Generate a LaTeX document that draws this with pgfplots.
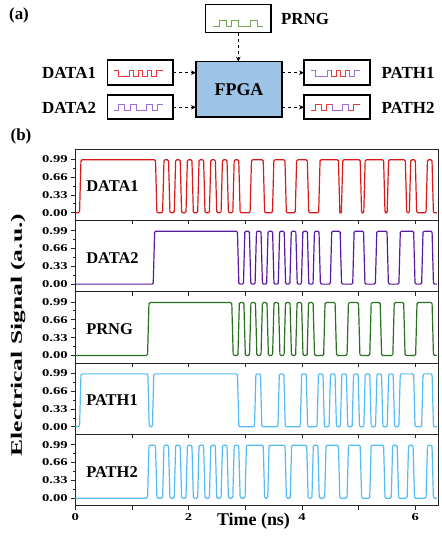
\documentclass[border=0pt]{standalone}
\usepackage{fontspec}
\setmainfont{Liberation Serif}
\newfontfamily\tickfont[FakeStretch=1.4]{Liberation Serif}
\newfontfamily\ylabfont[FakeStretch=1.6]{Liberation Serif}
\usepackage{pgfplots}
\pgfplotsset{compat=1.18}
\usetikzlibrary{arrows.meta}

\definecolor{cData1}{HTML}{D91A1A}
\definecolor{cData2}{HTML}{5A1AA0}
\definecolor{cPrng}{HTML}{2A7020}
\definecolor{cPath}{HTML}{55BBF5}
\definecolor{cFpga}{HTML}{9DC3E6}
\definecolor{iRed}{HTML}{E8383D}
\definecolor{iPur}{HTML}{A070D0}
\definecolor{iGrn}{HTML}{70A850}

\pgfplotsset{
  panel/.style={
    scale only axis, width=362.7bp, height=71.35bp, anchor=north west,
    xmin=0, xmax=6.4, ymin=-0.14, ymax=1.18,
    axis line style={line width=0.9bp, black!85},
    every tick/.style={line width=0.8bp, black!85},
    xtick={0,1,2,3,4,5,6}, xticklabels={},
    ytick={0,0.33,0.66,0.99}, yticklabels={0.00,0.33,0.66,0.99},
    minor ytick={0.165,0.495,0.825},
    tick align=outside, xtick pos=bottom, ytick pos=left,
    major tick length=4bp, minor tick length=2.5bp,
    yticklabel style={font=\tickfont\bfseries\fontsize{10.5}{10.5}\selectfont},
    xticklabel style={font=\tickfont\bfseries\fontsize{10.5}{10.5}\selectfont},
  },
  sig/.style={line width=1.2bp, rounded corners=1.2bp},
}
\newcommand\plab[1]{\node[anchor=west, inner sep=0pt, font=\bfseries\fontsize{16.5}{16.5}\selectfont] at (axis cs:0.19,0.49) {#1};}
\tikzset{darr/.style={line width=1bp, dash pattern=on 3.5bp off 2.5bp, -{Stealth[length=5bp,width=4.5bp]}}}

\begin{document}
\begin{tikzpicture}[x=1bp, y=1bp, font=\bfseries]
\path[use as bounding box] (0,0) rectangle (442,536);

% ---------- (a) block diagram ----------
\node[font=\bfseries\fontsize{17}{17}\selectfont] at (19,521) {(a)};
\draw[line width=1.6bp] (205.3,503.3) rectangle (270.7,531.3);
\node[font=\bfseries\fontsize{17}{17}\selectfont] at (305,517.5) {PRNG};
\draw[darr] (238.3,503.3) -- (238.3,474.3);
\draw[line width=1.6bp, fill=cFpga] (196,418.7) rectangle (281.7,474.3);
\node[font=\bfseries\fontsize{18}{18}\selectfont] at (239,446) {FPGA};
\draw[line width=1.6bp] (107.3,451) rectangle (172.7,476);
\draw[line width=1.6bp] (107.3,417) rectangle (172.7,441);
\draw[line width=1.6bp] (304,451) rectangle (370,476);
\draw[line width=1.6bp] (304,417) rectangle (370,441);
\node[font=\bfseries\fontsize{17}{17}\selectfont] at (69,463) {DATA1};
\node[font=\bfseries\fontsize{17}{17}\selectfont] at (69,428) {DATA2};
\node[font=\bfseries\fontsize{17}{17}\selectfont] at (408,463) {PATH1};
\node[font=\bfseries\fontsize{17}{17}\selectfont] at (408,428) {PATH2};
\foreach \yy in {463.3,428.7}{
  \draw[darr] (172.7,\yy) -- (196,\yy);
  \draw[darr] (281.7,\yy) -- (304,\yy);
}
% icons
\draw[iGrn, line width=0.8bp] (213,510) -- (219,510) -- (219,516) -- (226,516) -- (226,510) -- (231,510) -- (231,516) -- (238,516) -- (238,510) -- (250,510) -- (250,516) -- (257,516) -- (257,510) -- (263,510);
\draw[iRed, line width=0.8bp] (114,466) -- (118,466) -- (118,460) -- (129,460) -- (129,466) -- (133,466) -- (133,460) -- (138,460) -- (138,466) -- (142,466) -- (142,460) -- (147,460) -- (147,466) -- (151,466) -- (151,460) -- (156,460) -- (156,466) -- (163,466);
\draw[iPur, line width=0.8bp] (114,426) -- (118,426) -- (118,432) -- (124,432) -- (124,426) -- (130,426) -- (130,432) -- (136,432) -- (136,426) -- (146,426) -- (146,432) -- (152,432) -- (152,426) -- (157,426) -- (157,432) -- (163,432);
\draw[iPur, line width=0.8bp] (311,466) -- (315,466) -- (315,460) -- (327,460) -- (327,466) -- (331,466);
\draw[iRed, line width=0.8bp] (331,466) -- (331,460) -- (336,460) -- (336,466) -- (340,466) -- (340,460) -- (345,460) -- (345,466) -- (349,466);
\draw[iPur, line width=0.8bp] (349,466) -- (349,460) -- (354,460) -- (354,466) -- (360,466);
\draw[iRed, line width=0.8bp] (311,426) -- (315,426) -- (315,432) -- (321,432) -- (321,426) -- (326,426) -- (326,432) -- (332,432);
\draw[iPur, line width=0.8bp] (332,432) -- (332,426) -- (342,426) -- (342,432) -- (348,432) -- (348,426);
\draw[iRed, line width=0.8bp] (348,426) -- (353,426) -- (353,432) -- (360,432);

\node[font=\bfseries\fontsize{17}{17}\selectfont] at (21,400) {(b)};

% ---------- (b) waveforms ----------
\begin{axis}[panel, at={(75.3bp,387bp)}]
\addplot[sig, cData1] coordinates {(0,0) (0.075,0) (0.1,0.98) (1.415,0.98) (1.44,0)
 (1.54,0) (1.565,0.98) (1.645,0.98) (1.67,0) (1.746,0) (1.771,0.98) (1.851,0.98) (1.876,0)
 (1.953,0) (1.978,0.98) (2.058,0.98) (2.083,0) (2.159,0) (2.184,0.98) (2.264,0.98) (2.289,0)
 (2.366,0) (2.391,0.98) (2.471,0.98) (2.496,0) (2.572,0) (2.597,0.98) (2.677,0.98) (2.702,0)
 (2.779,0) (2.804,0.98) (2.884,0.98) (2.909,0)
 (3.084,0) (3.109,0.98) (3.316,0.98) (3.341,0) (3.479,0) (3.504,0.98) (3.699,0.98) (3.724,0)
 (3.881,0) (3.906,0.98) (4.094,0.98) (4.119,0) (4.294,0) (4.319,0.98) (4.643,0.98) (4.668,0)
 (4.695,0) (4.72,0.98) (5.027,0.98) (5.052,0) (5.09,0) (5.115,0.98) (5.44,0.98) (5.465,0)
 (5.503,0) (5.528,0.98) (5.823,0.98) (5.848,0) (5.894,0) (5.919,0.98) (5.999,0.98) (6.024,0)
 (6.189,0) (6.214,0.98) (6.294,0.98) (6.319,0) (6.38,0)};
\plab{DATA1}
\end{axis}

\begin{axis}[panel, at={(75.3bp,315.65bp)}]
\addplot[sig, cData2] coordinates {(0,0) (1.375,0) (1.4,0.98) (2.861,0.98) (2.886,0)
 (2.967,0) (2.992,0.98) (3.072,0.98) (3.097,0) (3.172,0) (3.197,0.98) (3.277,0.98) (3.302,0)
 (3.376,0) (3.401,0.98) (3.481,0.98) (3.506,0) (3.581,0) (3.606,0.98) (3.686,0.98) (3.711,0)
 (3.786,0) (3.811,0.98) (3.891,0.98) (3.916,0) (3.99,0) (4.015,0.98) (4.095,0.98) (4.12,0)
 (4.195,0) (4.22,0.98) (4.3,0.98) (4.325,0)
 (4.5,0) (4.525,0.98) (4.673,0.98) (4.698,0) (4.895,0) (4.92,0.98) (5.086,0.98) (5.111,0)
 (5.295,0) (5.32,0.98) (5.5,0.98) (5.525,0) (5.71,0) (5.735,0.98) (5.97,0.98) (5.995,0)
 (6.111,0) (6.136,0.98) (6.295,0.98) (6.32,0) (6.38,0)};
\plab{DATA2}
\end{axis}

\begin{axis}[panel, at={(75.3bp,244.3bp)}]
\addplot[sig, cPrng] coordinates {(0,0) (1.275,0) (1.3,0.98) (2.761,0.98) (2.786,0)
 (2.87,0) (2.895,0.98) (2.975,0.98) (3.0,0) (3.074,0) (3.099,0.98) (3.179,0.98) (3.204,0)
 (3.277,0) (3.302,0.98) (3.382,0.98) (3.407,0) (3.481,0) (3.506,0.98) (3.586,0.98) (3.611,0)
 (3.684,0) (3.709,0.98) (3.789,0.98) (3.814,0) (3.888,0) (3.913,0.98) (3.993,0.98) (4.018,0)
 (4.091,0) (4.116,0.98) (4.196,0.98) (4.221,0)
 (4.382,0) (4.407,0.98) (4.584,0.98) (4.609,0) (4.795,0) (4.82,0.98) (4.997,0.98) (5.022,0)
 (5.196,0) (5.221,0.98) (5.38,0.98) (5.405,0) (5.603,0) (5.628,0.98) (5.794,0.98) (5.819,0)
 (6.005,0) (6.03,0.98) (6.295,0.98) (6.32,0) (6.38,0)};
\plab{PRNG}
\end{axis}

\begin{axis}[panel, at={(75.3bp,172.95bp)}]
\addplot[sig, cPath] coordinates {(0,0) (0.075,0) (0.1,0.98) (1.28,0.98) (1.305,0) (1.36,0) (1.385,0.98) (2.861,0.98) (2.886,0)
 (3.162,0) (3.187,0.98) (3.267,0.98) (3.292,0) (3.575,0) (3.6,0.98) (3.68,0.98) (3.705,0)
 (3.97,0) (3.995,0.98) (4.075,0.98) (4.1,0) (4.265,0) (4.29,0.98) (4.37,0.98) (4.395,0)
 (4.478,0) (4.503,0.98) (4.583,0.98) (4.608,0) (4.678,0) (4.703,0.98) (4.783,0.98) (4.808,0)
 (4.885,0) (4.91,0.98) (4.99,0.98) (5.015,0) (5.091,0) (5.116,0.98) (5.196,0.98) (5.221,0)
 (5.298,0) (5.323,0.98) (5.403,0.98) (5.428,0) (5.504,0) (5.529,0.98) (5.609,0.98) (5.634,0)
 (5.709,0) (5.734,0.98) (5.97,0.98) (5.995,0) (6.111,0) (6.136,0.98) (6.295,0.98) (6.32,0) (6.38,0)};
\plab{PATH1}
\end{axis}

\begin{axis}[panel, at={(75.3bp,101.6bp)}, xticklabels={0,,2,,4,,6}]
\addplot[sig, cPath] coordinates {(0,0) (1.275,0) (1.3,0.98) (1.415,0.98) (1.44,0)
 (1.54,0) (1.565,0.98) (1.645,0.98) (1.67,0) (1.746,0) (1.771,0.98) (1.851,0.98) (1.876,0)
 (1.953,0) (1.978,0.98) (2.058,0.98) (2.083,0) (2.159,0) (2.184,0.98) (2.264,0.98) (2.289,0)
 (2.366,0) (2.391,0.98) (2.471,0.98) (2.496,0) (2.572,0) (2.597,0.98) (2.677,0.98) (2.702,0)
 (2.779,0) (2.804,0.98) (2.884,0.98) (2.909,0)
 (2.995,0) (3.02,0.98) (3.316,0.98) (3.341,0) (3.395,0) (3.42,0.98) (3.7,0.98) (3.725,0)
 (3.792,0) (3.817,0.98) (4.083,0.98) (4.108,0) (4.175,0) (4.2,0.98) (4.28,0.98) (4.305,0)
 (4.4,0) (4.425,0.98) (4.643,0.98) (4.668,0) (4.795,0) (4.82,0.98) (5.027,0.98) (5.052,0)
 (5.195,0) (5.22,0.98) (5.44,0.98) (5.465,0) (5.575,0) (5.6,0.98) (5.68,0.98) (5.705,0)
 (5.855,0) (5.88,0.98) (5.96,0.98) (5.985,0) (6.189,0) (6.214,0.98) (6.294,0.98) (6.319,0) (6.38,0)};
\plab{PATH2}
\end{axis}

\node[anchor=base, font=\bfseries\fontsize{18}{18}\selectfont] at (253.5,10) {Time (ns)};
\node[rotate=90, font=\ylabfont\bfseries\fontsize{16}{16}\selectfont] at (18,201) {Electrical Signal (a.u.)};
\end{tikzpicture}
\end{document}
